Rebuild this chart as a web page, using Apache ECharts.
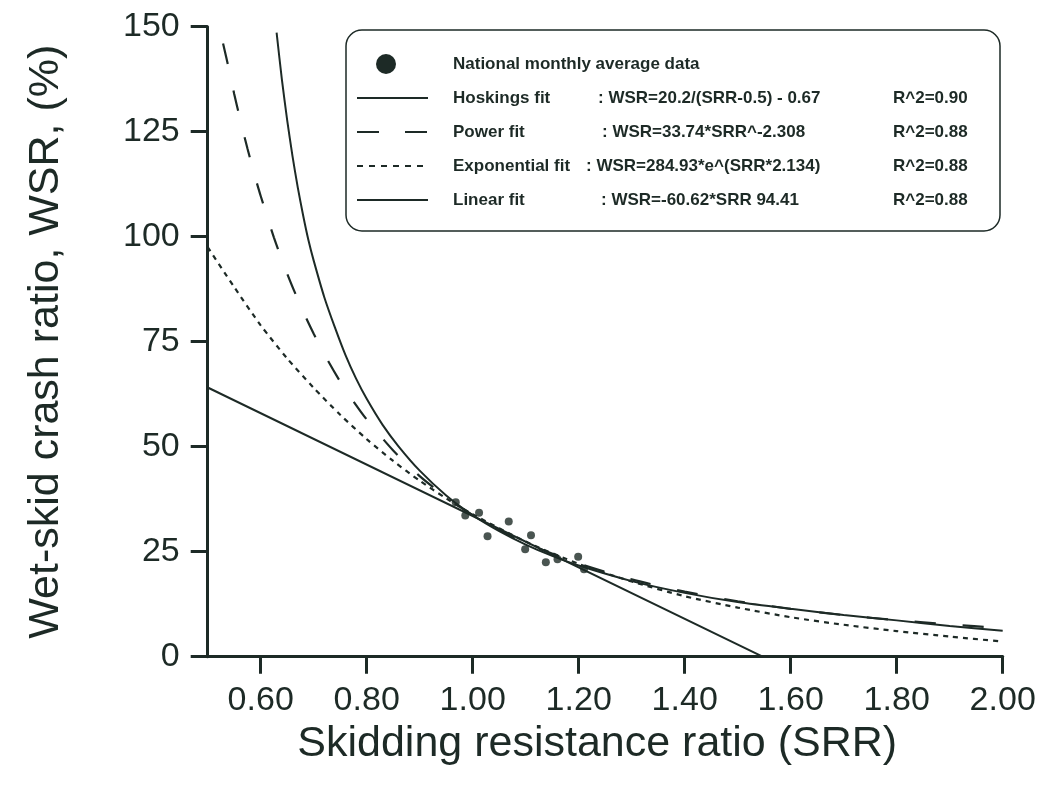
<!DOCTYPE html>
<html><head><meta charset="utf-8">
<script src="https://cdn.jsdelivr.net/npm/echarts@6/dist/echarts.min.js"></script>
<style>html,body{margin:0;padding:0;background:#fff}#c{width:1046px;height:788px}</style>
</head><body><div id="c"></div>
<script>
// ---- data ----
const xTicks = [0.6, 0.8, 1.0, 1.2, 1.4, 1.6, 1.8, 2.0];
const yMin = 0, yMax = 150, yStep = 25;

const obsSRR = [0.968, 0.986, 1.012, 1.028, 1.068, 1.110, 1.099, 1.138, 1.160, 1.199, 1.210];
const obsWSR = [36.8, 33.6, 34.3, 28.7, 32.2, 28.9, 25.6, 22.5, 23.2, 23.8, 20.8];

const hoskSRR = [0.630, 0.64, 0.65, 0.66, 0.67, 0.68, 0.69, 0.70, 0.72, 0.74, 0.76, 0.78, 0.80, 0.83, 0.86, 0.90, 0.95, 1.00, 1.05, 1.10, 1.15, 1.20, 1.30, 1.40, 1.50, 1.60, 1.70, 1.80, 1.90, 2.00];
const hoskWSR = [148.6, 137.4, 127.7, 119.2, 111.7, 105.1, 99.2, 94.3, 85.6, 78.4, 71.8, 66.2, 61.4, 55.2, 50.1, 44.3, 38.4, 33.7, 29.9, 26.7, 24.0, 21.7, 18.0, 15.2, 13.0, 11.4, 9.95, 8.65, 7.3, 6.2];

const powSRR = [0.529, 0.54, 0.55, 0.56, 0.575, 0.59, 0.60, 0.625, 0.65, 0.675, 0.70, 0.725, 0.75, 0.775, 0.80, 0.85, 0.90, 0.95, 1.00, 1.10, 1.20, 1.30, 1.40, 1.50, 1.60, 1.70, 1.80, 1.90, 2.00];
const powWSR = [146.0, 139.9, 134.0, 128.6, 121.0, 114.0, 109.7, 99.8, 91.2, 83.6, 76.9, 70.9, 65.5, 60.8, 56.5, 49.1, 43.0, 38.0, 33.7, 27.1, 22.2, 18.4, 15.5, 13.2, 11.4, 9.9, 8.7, 7.7, 6.8];

const expSRR = [0.50, 0.55, 0.60, 0.65, 0.70, 0.75, 0.80, 0.85, 0.90, 0.95, 1.00, 1.10, 1.20, 1.30, 1.40, 1.50, 1.60, 1.70, 1.80, 1.90, 2.00];
const expWSR = [97.5, 88.0, 78.9, 71.0, 64.0, 57.6, 51.8, 46.6, 41.9, 37.7, 33.9, 27.4, 22.1, 17.9, 14.4, 11.7, 9.4, 7.6, 6.1, 4.8, 3.6];

const linSRR = [0.50, 1.547];
const linWSR = [64.1, 0];

const legendNames = ['National monthly average data', 'Hoskings fit', 'Power fit', 'Exponential fit', 'Linear fit'];
const legendEqs = ['', ': WSR=20.2/(SRR-0.5) - 0.67', ': WSR=33.74*SRR^-2.308', ': WSR=284.93*e^(SRR*2.134)', ': WSR=-60.62*SRR 94.41'];
const legendR2 = ['', 'R^2=0.90', 'R^2=0.88', 'R^2=0.88', 'R^2=0.88'];

// ---- chart ----
const INK = '#1d2a26';
const FONT = '"Liberation Sans", Arial, sans-serif';
const zip = (a, b) => a.map((v, i) => [v, b[i]]);

const chart = echarts.init(document.getElementById('c'), null, { renderer: 'canvas' });

const legRowY = [64, 98, 132, 166, 200];
const eqX = [0, 598, 602, 586, 601];
const dashes = [null, null, [22, 26], [6, 6], null];
const graphics = [{
  type: 'rect', shape: { x: 346, y: 30, width: 654, height: 201, r: 16 },
  style: { fill: 'none', stroke: INK, lineWidth: 1.5 }, z: 10
}, {
  type: 'circle', shape: { cx: 386, cy: legRowY[0], r: 10 }, style: { fill: INK }, z: 10
}];
for (let i = 1; i < 5; i++) {
  graphics.push({
    type: 'line', shape: { x1: 357, y1: legRowY[i], x2: 428, y2: legRowY[i] },
    style: { stroke: INK, lineWidth: 2, lineDash: dashes[i] || undefined }, z: 10
  });
}
for (let i = 0; i < 5; i++) {
  const ts = { fill: INK, font: 'bold 17px ' + FONT, textVerticalAlign: 'middle' };
  graphics.push({ type: 'text', x: 453, y: legRowY[i], style: Object.assign({ text: legendNames[i] }, ts), z: 10 });
  if (legendEqs[i]) {
    graphics.push({ type: 'text', x: eqX[i], y: legRowY[i], style: Object.assign({ text: legendEqs[i] }, ts), z: 10 });
    graphics.push({ type: 'text', x: 893, y: legRowY[i], style: Object.assign({ text: legendR2[i] }, ts), z: 10 });
  }
}

const lineBase = { type: 'line', showSymbol: false, symbol: 'none', smooth: 0.25, silent: true, clip: true };

chart.setOption({
  animation: false,
  backgroundColor: '#fff',
  grid: { left: 207.7, right: 43.3, top: 26.7, bottom: 131.3, containLabel: false },
  xAxis: {
    type: 'value', min: 0.5, max: 2.0,
    name: 'Skidding resistance ratio (SRR)', nameLocation: 'middle', nameGap: 62,
    nameTextStyle: { fontFamily: FONT, fontSize: 43, color: INK, padding: [0, 16, 0, 0] },
    axisLine: { show: true, onZero: false, lineStyle: { color: INK, width: 3 } },
    axisTick: { show: true, inside: false, length: 17, lineStyle: { color: INK, width: 3 }, customValues: xTicks },
    axisLabel: { show: true, customValues: xTicks, formatter: v => v.toFixed(2), fontFamily: FONT, fontSize: 34, color: INK, margin: 27 },
    splitLine: { show: false }
  },
  yAxis: {
    type: 'value', min: yMin, max: yMax, interval: yStep,
    name: 'Wet-skid crash ratio, WSR, (%)', nameLocation: 'middle', nameGap: 140,
    nameTextStyle: { fontFamily: FONT, fontSize: 43, color: INK },
    axisLine: { show: true, lineStyle: { color: INK, width: 3 } },
    axisTick: { show: true, inside: false, length: 17, lineStyle: { color: INK, width: 3 } },
    axisLabel: { fontFamily: FONT, fontSize: 34, color: INK, margin: 28 },
    splitLine: { show: false }
  },
  graphic: graphics,
  series: [
    Object.assign({}, lineBase, { name: legendNames[1], data: zip(hoskSRR, hoskWSR), lineStyle: { color: INK, width: 2 } }),
    Object.assign({}, lineBase, { name: legendNames[2], data: zip(powSRR, powWSR), lineStyle: { color: INK, width: 2.2, type: [21, 27] } }),
    Object.assign({}, lineBase, { name: legendNames[3], data: zip(expSRR, expWSR), lineStyle: { color: INK, width: 2.2, type: [5, 5] } }),
    Object.assign({}, lineBase, { name: legendNames[4], smooth: false, data: zip(linSRR, linWSR), lineStyle: { color: INK, width: 2 } }),
    { type: 'scatter', name: legendNames[0], data: zip(obsSRR, obsWSR), symbolSize: 8, itemStyle: { color: INK }, z: 5, silent: true }
  ]
});
</script></body></html>
